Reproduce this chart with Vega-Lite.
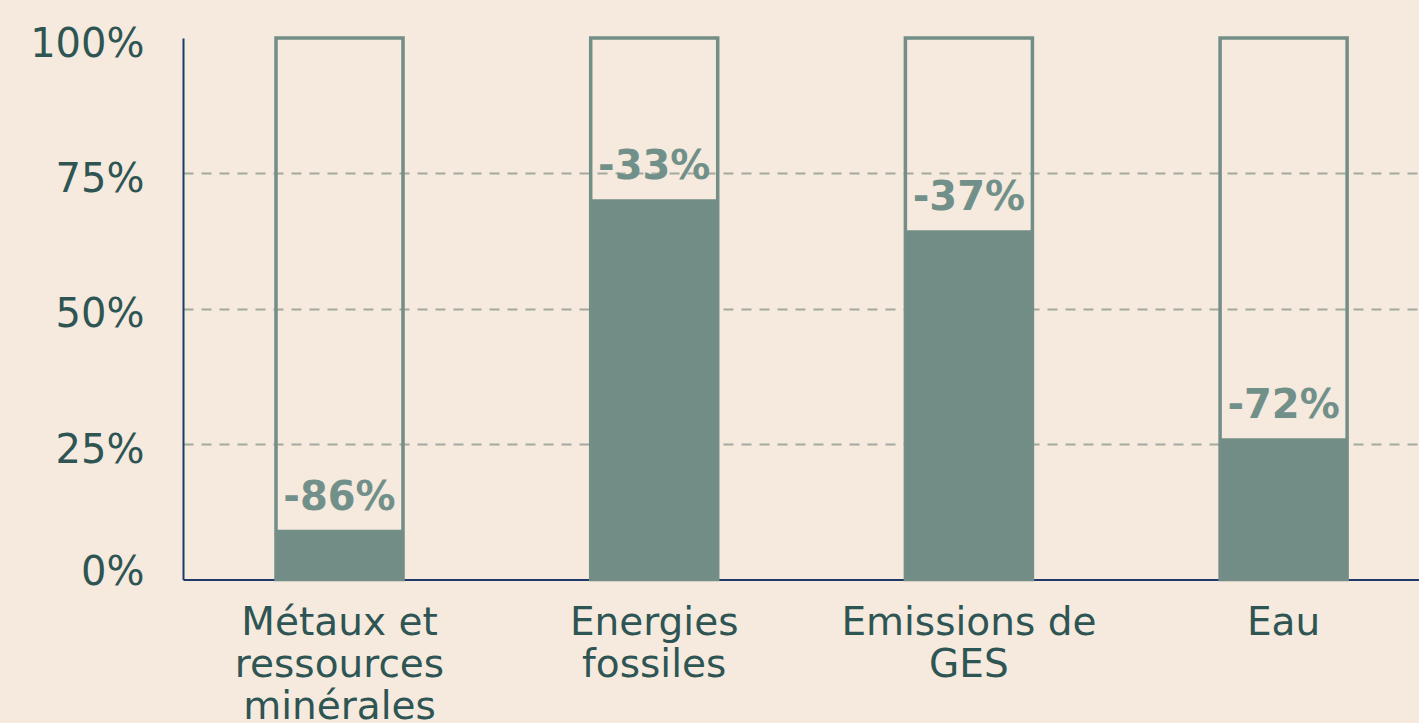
{
  "$schema": "https://vega.github.io/schema/vega-lite/v6.json",
  "autosize": {"type": "none"},
  "padding": {"left": 183, "top": 38, "right": 0, "bottom": 143.5},
  "width": 1236,
  "height": 541.5,
  "background": "#F5EADD",
  "data": {
    "values": [
      {"categorie": "Métaux et\nressources\nminérales", "valeur": 9.2, "total": 100, "etiquette": "-86%"},
      {"categorie": "Energies\nfossiles", "valeur": 70.2, "total": 100, "etiquette": "-33%"},
      {"categorie": "Emissions de\nGES", "valeur": 64.5, "total": 100, "etiquette": "-37%"},
      {"categorie": "Eau", "valeur": 26.1, "total": 100, "etiquette": "-72%"}
    ]
  },
  "encoding": {
    "x": {
      "field": "categorie",
      "type": "nominal",
      "sort": null,
      "scale": {"paddingInner": 0.5964, "paddingOuter": 0.262, "align": 0.564},
      "axis": {
        "title": null,
        "labelAngle": 0,
        "labelExpr": "split(datum.label, '\\n')",
        "labelFont": "DejaVu Sans",
        "labelFontSize": 39,
        "labelColor": "#2E5553",
        "labelLineHeight": 42,
        "labelPadding": 24,
        "ticks": false,
        "domainColor": "#1F3A68",
        "domainWidth": 2,
        "labelLimit": 400
      }
    }
  },
  "layer": [
    {
      "mark": {"type": "bar", "fill": "#728C86", "stroke": "#728C86", "strokeWidth": 0},
      "encoding": {
        "y": {
          "field": "valeur",
          "type": "quantitative",
          "scale": {"domain": [0, 100], "nice": false},
          "axis": {
            "title": null,
            "values": [0, 25, 50, 75, 100],
            "labelExpr": "datum.value + '%'",
            "labelFont": "DejaVu Sans",
            "labelFontSize": 40,
            "labelColor": "#2E5553",
            "labelPadding": 39,
            "labelOffset": {"condition": {"test": "datum.value == 0", "value": -7}, "value": 6},
            "ticks": false,
            "domainColor": "#1F3A68",
            "domainWidth": 2,
            "grid": true,
            "gridColor": "#A3A9A1",
            "gridWidth": 2,
            "gridDash": [10, 8],
            "gridOpacity": {"condition": {"test": "datum.value == 0 || datum.value == 100", "value": 0}, "value": 1}
          }
        }
      }
    },
    {
      "mark": {"type": "bar", "fill": null, "fillOpacity": 0, "stroke": "#738D87", "strokeWidth": 3.5},
      "encoding": {
        "y": {"field": "total", "type": "quantitative"}
      }
    },
    {
      "mark": {
        "type": "text",
        "baseline": "alphabetic",
        "align": "center",
        "dy": -20,
        "font": "DejaVu Sans",
        "fontWeight": "bold",
        "fontSize": 40,
        "color": "#72908A"
      },
      "encoding": {
        "y": {"field": "valeur", "type": "quantitative"},
        "text": {"field": "etiquette"}
      }
    }
  ],
  "config": {
    "view": {"stroke": null}
  }
}
